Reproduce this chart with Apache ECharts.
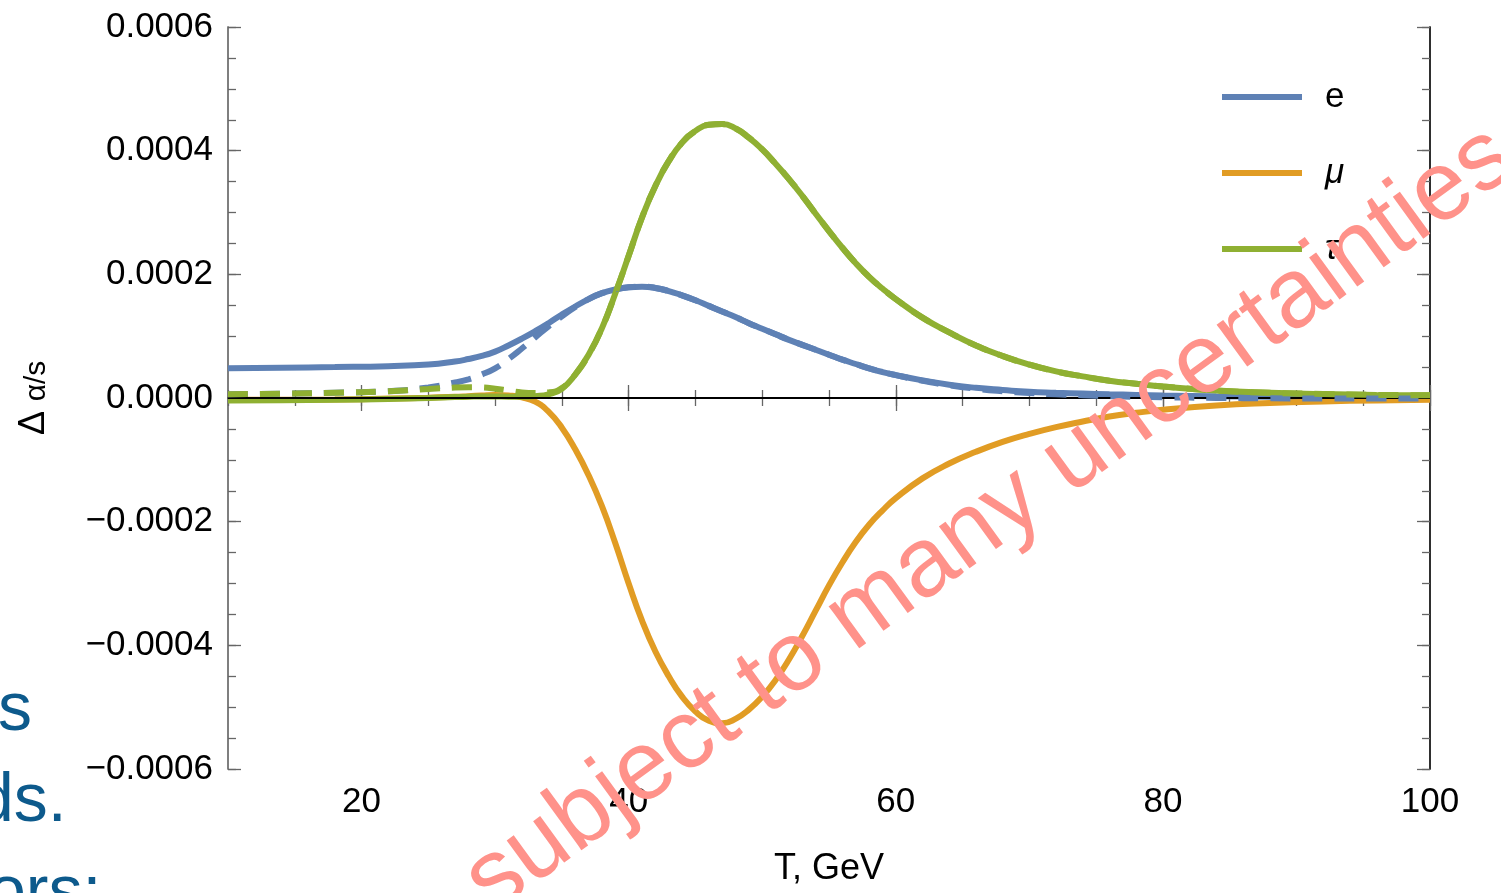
<!DOCTYPE html>
<html>
<head>
<meta charset="utf-8">
<script src="https://cdn.jsdelivr.net/npm/echarts@6/dist/echarts.min.js"></script>
<style>
  html, body { margin: 0; padding: 0; background: #fff; }
  #chart { width: 1501px; height: 893px; }
</style>
</head>
<body>
<div id="chart"></div>
<script>
// Temperature grid (GeV)
const T = [10,14,18,22,25,27,28,29,30,31,32,33,34,35,36,37,38,39,40,41,42,43,44,45,46,47,48,49,50,51,52,53,54,55,56,57,58,59,60,62,64,66,68,70,72,74,76,78,80,84,88,92,96,100];

// Δα/s values
const eSolid = [4.8e-5,4.9e-5,5.0e-5,5.15e-5,5.4e-5,5.9e-5,6.3e-5,6.8e-5,7.5e-5,8.5e-5,9.6e-5,1.08e-4,1.21e-4,1.35e-4,1.48e-4,1.60e-4,1.695e-4,1.755e-4,1.79e-4,1.80e-4,1.78e-4,1.73e-4,1.66e-4,1.58e-4,1.49e-4,1.40e-4,1.31e-4,1.21e-4,1.12e-4,1.03e-4,9.4e-5,8.6e-5,7.8e-5,7.0e-5,6.2e-5,5.5e-5,4.8e-5,4.2e-5,3.7e-5,2.85e-5,2.15e-5,1.65e-5,1.3e-5,1.0e-5,8.5e-6,7.2e-6,6.0e-6,5.0e-6,4.0e-6,2.8e-6,2.0e-6,1.5e-6,1.2e-6,1.0e-6];
const muSolid = [-3e-6,-3e-6,-2.5e-6,-1e-6,5e-7,2e-6,3e-6,4e-6,5e-6,4e-6,1e-6,-6e-6,-2.2e-5,-4.8e-5,-8.3e-5,-1.25e-4,-1.75e-4,-2.35e-4,-3.0e-4,-3.6e-4,-4.1e-4,-4.5e-4,-4.83e-4,-5.07e-4,-5.22e-4,-5.26e-4,-5.19e-4,-5.04e-4,-4.83e-4,-4.56e-4,-4.23e-4,-3.85e-4,-3.44e-4,-3.03e-4,-2.66e-4,-2.33e-4,-2.05e-4,-1.82e-4,-1.62e-4,-1.30e-4,-1.06e-4,-8.7e-5,-7.1e-5,-5.8e-5,-4.7e-5,-3.8e-5,-3.0e-5,-2.4e-5,-1.9e-5,-1.2e-5,-8e-6,-5.5e-6,-4e-6,-3e-6];
const tauSolid = [-4e-6,-3.5e-6,-3e-6,-1.5e-6,0,1.5e-6,2e-6,2.5e-6,2.5e-6,2e-6,2e-6,3e-6,6e-6,1.5e-5,3.8e-5,7.0e-5,1.13e-4,1.69e-4,2.30e-4,2.92e-4,3.43e-4,3.83e-4,4.13e-4,4.32e-4,4.42e-4,4.43e-4,4.36e-4,4.21e-4,4.02e-4,3.79e-4,3.54e-4,3.27e-4,2.98e-4,2.70e-4,2.43e-4,2.18e-4,1.96e-4,1.77e-4,1.60e-4,1.30e-4,1.06e-4,8.5e-5,6.8e-5,5.4e-5,4.3e-5,3.5e-5,2.8e-5,2.3e-5,1.85e-5,1.2e-5,8.5e-6,6.5e-6,5e-6,4.5e-6];
const eDashed = [6e-6,7e-6,8.5e-6,1.1e-5,1.7e-5,2.5e-5,3.0e-5,3.8e-5,4.8e-5,6.3e-5,8.0e-5,9.8e-5,1.16e-4,1.32e-4,1.47e-4,1.60e-4,1.695e-4,1.755e-4,1.79e-4,1.80e-4,1.78e-4,1.73e-4,1.66e-4,1.58e-4,1.49e-4,1.40e-4,1.31e-4,1.21e-4,1.12e-4,1.03e-4,9.4e-5,8.6e-5,7.8e-5,7.0e-5,6.2e-5,5.5e-5,4.8e-5,4.2e-5,3.7e-5,2.8e-5,2.05e-5,1.5e-5,1.1e-5,8e-6,6e-6,4.5e-6,3e-6,2e-6,1.2e-6,2e-7,-5e-7,-8e-7,-1e-6,-1e-6];
const tauDashed = [6e-6,7e-6,8.5e-6,1.1e-5,1.45e-5,1.7e-5,1.75e-5,1.7e-5,1.5e-5,1.2e-5,9e-6,8e-6,9e-6,1.6e-5,3.8e-5,7.0e-5,1.13e-4,1.69e-4,2.30e-4,2.92e-4,3.43e-4,3.83e-4,4.13e-4,4.32e-4,4.42e-4,4.43e-4,4.36e-4,4.21e-4,4.02e-4,3.79e-4,3.54e-4,3.27e-4,2.98e-4,2.70e-4,2.43e-4,2.18e-4,1.96e-4,1.77e-4,1.60e-4,1.30e-4,1.06e-4,8.5e-5,6.8e-5,5.4e-5,4.3e-5,3.5e-5,2.8e-5,2.3e-5,1.85e-5,1.2e-5,8.5e-6,6.5e-6,5e-6,4.5e-6];

// Axis ticks / labels
const xMajor = [20,40,60,80,100];
const yMajor = [-0.0006,-0.0004,-0.0002,0,0.0002,0.0004,0.0006];
const seriesNames = ['e','μ','τ'];
const colors = ['#5e81b5','#e19c24','#8fb032'];

const FONT = '"Liberation Sans", Arial, Helvetica, sans-serif';
const pair = (ys) => T.map((t, i) => [t, ys[i]]);
const fmtY = (v) => {
  if (Math.abs(v) < 1e-12) return '0.0000';
  return (v < 0 ? '\u2212' : '') + Math.abs(v).toFixed(4);
};

const axLine = (color) => ({ show: true, lineStyle: { color: color, width: 1.5 } });

function xAxisDef(pos, major, labels, lineColor) {
  const a = {
    type: 'value', position: pos, min: 10, max: 100, gridIndex: 0,
    axisLine: axLine(lineColor),
    splitLine: { show: false },
    axisTick: { show: true, inside: true, length: major ? 13 : 8, lineStyle: { color: '#666', width: 1.3 } },
    axisLabel: { show: false }
  };
  if (major) {
    a.interval = 10;
    a.axisTick.customValues = xMajor;
    if (labels) {
      a.axisLabel = { show: true, customValues: xMajor, fontSize: 35, fontFamily: FONT, color: '#000', margin: 16 };
    }
  } else {
    a.interval = 5;
  }
  return a;
}
function yAxisDef(pos, major, labels, lineColor) {
  const a = {
    type: 'value', position: pos, min: -0.0006, max: 0.0006, gridIndex: 0,
    axisLine: axLine(lineColor),
    splitLine: { show: false },
    axisTick: { show: true, inside: true, length: major ? 13 : 8, lineStyle: { color: '#666', width: 1.3 } },
    axisLabel: { show: false }
  };
  if (major) {
    a.interval = 0.0002;
    a.axisTick.customValues = yMajor;
    if (labels) {
      a.axisLabel = { show: true, customValues: yMajor, fontSize: 35, fontFamily: FONT, color: '#000', margin: 15, formatter: fmtY };
    }
  } else {
    a.interval = 0.00005;
  }
  return a;
}

const chart = echarts.init(document.getElementById('chart'), null, { renderer: 'canvas' });

const lineSeries = (name, data, color, dashed, z) => ({
  name: name, type: 'line', data: data, xAxisIndex: 0, yAxisIndex: 0,
  showSymbol: false, symbol: 'none', smooth: 0.5, z: z,
  itemStyle: { color: color },
  lineStyle: { color: color, width: 6, type: dashed ? [20, 12] : 'solid' },
  emphasis: { disabled: true }
});

const series = [
  lineSeries(seriesNames[0], pair(eSolid), colors[0], false, 2),
  lineSeries(seriesNames[1], pair(muSolid), colors[1], false, 3),
  lineSeries(seriesNames[2], pair(tauSolid), colors[2], false, 4),
  lineSeries('e (dashed)', pair(eDashed), colors[0], true, 5),
  lineSeries('τ (dashed)', pair(tauDashed), colors[2], true, 6)
];
series[4].markLine = {
  silent: true, symbol: 'none', animation: false,
  label: { show: false },
  lineStyle: { color: '#000', width: 2, type: 'solid' },
  data: [{ yAxis: 0 }]
};

const option = {
  animation: false,
  backgroundColor: '#fff',
  grid: { left: 228, right: 71, top: 27, bottom: 124, containLabel: false },
  xAxis: [
    xAxisDef('bottom', true, true, '#777'),
    xAxisDef('bottom', false, false, '#777'),
    xAxisDef('top', true, false, '#444'),
    xAxisDef('top', false, false, '#444')
  ],
  yAxis: [
    yAxisDef('left', true, true, '#777'),
    yAxisDef('left', false, false, '#777'),
    yAxisDef('right', true, false, '#222'),
    yAxisDef('right', false, false, '#222')
  ],
  legend: {
    show: true, orient: 'vertical', left: 1222, top: 77, padding: 0,
    icon: 'rect', itemWidth: 80, itemHeight: 6, itemGap: 36,
    textStyle: { fontSize: 35, fontFamily: FONT, color: '#000', lineHeight: 40, padding: [0, 0, 0, 18] },
    data: [
      { name: 'e' },
      { name: 'μ', textStyle: { fontStyle: 'italic' } },
      { name: 'τ', textStyle: { fontStyle: 'italic' } }
    ],
    selectedMode: false
  },
  series: series,
  graphic: [
    { // x axis title
      type: 'text', x: 829, y: 869, z: 50,
      style: { text: 'T, GeV', font: '36px ' + FONT, fill: '#000', align: 'center', verticalAlign: 'middle', textAlign: 'center', textVerticalAlign: 'middle' }
    },
    { // y axis title: Δ
      type: 'text', x: 34, y: 423, rotation: Math.PI / 2, z: 50,
      style: { text: 'Δ', font: '36px ' + FONT, fill: '#000', align: 'center', verticalAlign: 'middle', textAlign: 'center', textVerticalAlign: 'middle' }
    },
    { // y axis title: α/s
      type: 'text', x: 37, y: 381, rotation: Math.PI / 2, z: 50,
      style: { text: 'α/s', font: '30px ' + FONT, fill: '#000', align: 'center', verticalAlign: 'middle', textAlign: 'center', textVerticalAlign: 'middle' }
    },
    // slide text fragments at left edge
    { type: 'text', x: -2, y: 711, z: 40, style: { text: 's', font: '68px ' + FONT, fill: '#0d5a8c', verticalAlign: 'middle', textVerticalAlign: 'middle' } },
    { type: 'text', x: -24, y: 802, z: 40, style: { text: 'ds.', font: '68px ' + FONT, fill: '#0d5a8c', verticalAlign: 'middle', textVerticalAlign: 'middle' } },
    { type: 'text', x: -12, y: 894, z: 40, style: { text: 'ors:', font: '68px ' + FONT, fill: '#0d5a8c', verticalAlign: 'middle', textVerticalAlign: 'middle' } },
    { // watermark
      type: 'text', x: 990, y: 520, rotation: 36 * Math.PI / 180, z: 100,
      style: { text: 'subject to many uncertainties', font: '98px ' + FONT, fill: '#ff928a', align: 'center', verticalAlign: 'middle', textAlign: 'center', textVerticalAlign: 'middle' }
    }
  ]
};
chart.setOption(option);
</script>
</body>
</html>
